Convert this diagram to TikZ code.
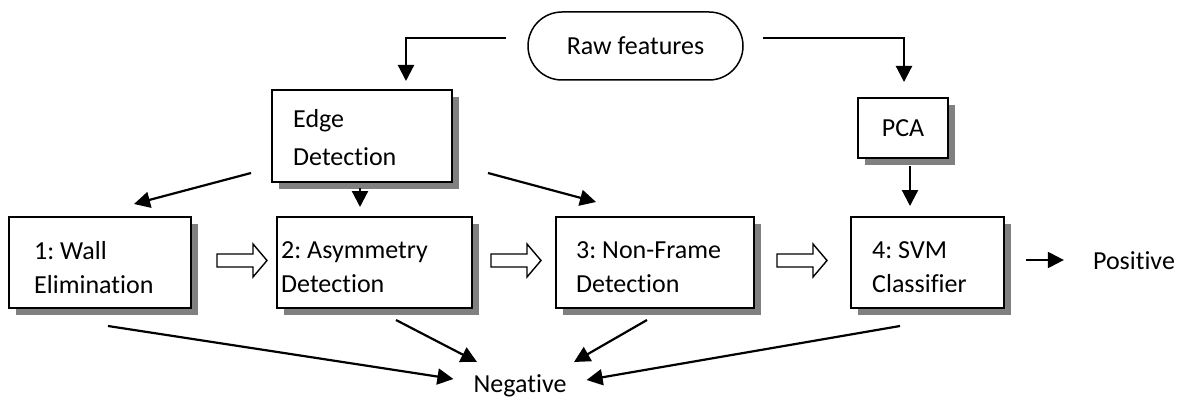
\documentclass[tikz,border=0pt]{standalone}
\usepackage{fontspec}
\setmainfont{Carlito}[Ligatures=NoCommon]
\usetikzlibrary{arrows.meta,shadows,shapes.misc,calc}
\begin{document}
\frenchspacing
\begin{tikzpicture}[x=1pt,y=-1pt,
  font=\fontsize{26}{34}\selectfont,
  box/.style={draw=black,line width=2pt,fill=white,inner sep=0pt,
    drop shadow={shadow xshift=7pt,shadow yshift=-7pt,fill=black!50,opacity=1}},
  lbl/.style={anchor=west,align=left,inner sep=0pt},
  arr/.style={line width=2.2pt,-{Triangle[length=16pt,width=16pt]}},
  hollowarrow/.pic={\draw[line width=1.4pt,fill=white,line join=miter]
     (-25,-6.5) -- (11,-6.5) -- (11,-16.5) -- (25,0) -- (11,16.5) -- (11,6.5) -- (-25,6.5) -- cycle;}]
\useasboundingbox[fill=white] (0,0) rectangle (1201,401);

% raw features
\node[draw=black,line width=1.5pt,rounded rectangle,minimum width=215pt,minimum height=68pt,inner sep=0pt]
  (raw) at (635.5,46) {Raw features};

% edge detection and PCA
\node[box,minimum width=180pt,minimum height=92pt] (edge) at (362,136) {};
\node[lbl,font=\fontsize{26}{38}\selectfont] (tedge) at (293,138) {Edge\\Detection};
\node[box,minimum width=90pt,minimum height=60pt] (pca) at (903,128) {};
\node[inner sep=0pt] (tpca) at (pca.center) {PCA};

% row of stages
\node[box,minimum width=182pt,minimum height=91pt] (b1) at (100,262.5) {};
\node[box,minimum width=195pt,minimum height=91pt] (b2) at (374.5,262.5) {};
\node[box,minimum width=198pt,minimum height=91pt] (b3) at (655,262.5) {};
\node[box,minimum width=153pt,minimum height=91pt] (b4) at (927.5,262.5) {};
\node[lbl] (t1) at ($(b1.west)+(26,5)$) {1: Wall\\Elimination};
\node[lbl] (t2) at ($(b2.west)+(5,5)$) {2: Asymmetry\\Detection};
\node[lbl] (t3) at ($(b3.west)+(21,5)$) {3: Non-Frame\\Detection};
\node[lbl] (t4) at ($(b4.west)+(22,5)$) {4: SVM\\Classifier};

\node[inner sep=0pt] (pos) at (1134,261) {Positive};
\node[inner sep=0pt] (neg) at (520,386) {Negative};

% hollow block arrows
\coordinate (h12) at (242,260.5);
\coordinate (h23) at (516,260.5);
\coordinate (h34) at (802,260.5);
\pic at (h12) {hollowarrow};
\pic at (h23) {hollowarrow};
\pic at (h34) {hollowarrow};

% raw features connectors
\draw[arr] ($(raw.west)+(-21,-8)$) -| ($(edge.north)+(44,-8)$);
\draw[arr] ($(raw.east)+(19,-8)$) -| ($(pca.north)+(1,-15)$);

% edge detection fan-out
\draw[arr] ($(edge.south west)+(-20,-10)$) -- ($(b1.north west)+(126,-12)$);
\draw[arr] ($(edge.south)+(-2,5)$) -- ($(b2.north)+(-14.5,-9)$);
\draw[arr] ($(edge.south east)+(35,-10)$) -- ($(b3.north west)+(41,-14)$);
\draw[arr] ($(pca.south)+(7,7)$) -- ($(b4.north)+(-17.5,-10)$);
\draw[arr] ($(b4.east)+(21,-2.5)$) -- ($(pos.west)+(-29,-1)$);

% to negative
\draw[arr] ($(b1.south west)+(100,17)$) -- ($(neg.west)+(-20,-7)$);
\draw[arr] ($(b2.south west)+(120,11)$) -- ($(neg.center)+(-43,-24)$);
\draw[arr] ($(b3.south west)+(92,11)$) -- ($(neg.center)+(54,-24)$);
\draw[arr] ($(b4.south west)+(50,17)$) -- ($(neg.east)+(20,-6)$);
\end{tikzpicture}
\end{document}
